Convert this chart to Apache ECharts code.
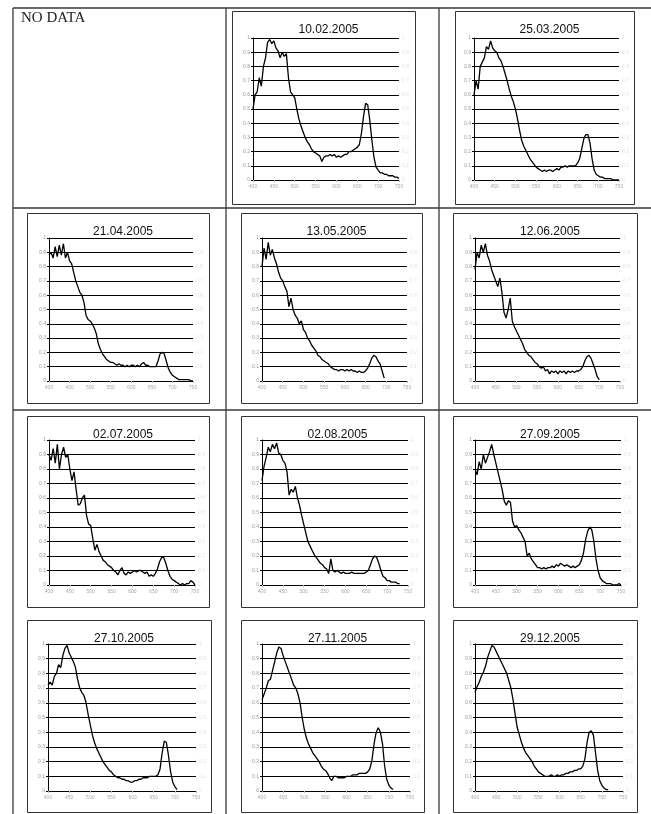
<!DOCTYPE html>
<html><head><meta charset="utf-8">
<script src="https://cdn.jsdelivr.net/npm/echarts@6/dist/echarts.min.js"></script>
<style>html,body{margin:0;padding:0;background:#fff}#c{width:651px;height:814px}</style>
</head><body><div id="c"></div>
<script>
// ---------- DATA ----------
const dates = ['10.02.2005','25.03.2005','21.04.2005','13.05.2005','12.06.2005','02.07.2005','02.08.2005','27.09.2005','27.10.2005','27.11.2005','29.12.2005'];
const wavelengths = [400,405,410,415,420,425,430,435,440,445,450,455,460,465,470,475,480,485,490,495,500,505,510,515,520,525,530,535,540,545,550,555,560,565,570,575,580,585,590,595,600,605,610,615,620,625,630,635,640,645,650,655,660,665,670,675,680,685,690,695,700,705,710,715,720,725,730,735,740,745,750];
const xTicks = [400,450,500,550,600,650,700,750];
const yTicks = [0,0.1,0.2,0.3,0.4,0.5,0.6,0.7,0.8,0.9,1];

const s20050210 = [0.50,0.60,0.62,0.72,0.66,0.80,0.86,0.97,0.99,0.96,0.98,0.93,0.91,0.86,0.90,0.87,0.89,0.72,0.62,0.60,0.58,0.50,0.43,0.38,0.34,0.30,0.27,0.25,0.22,0.20,0.19,0.18,0.17,0.13,0.16,0.17,0.17,0.18,0.17,0.18,0.16,0.17,0.16,0.17,0.18,0.18,0.20,0.20,0.21,0.22,0.23,0.25,0.33,0.45,0.54,0.53,0.42,0.28,0.16,0.09,0.07,0.05,0.05,0.04,0.04,0.03,0.03,0.03,0.02,0.02,0.01];
const s20050325 = [0.60,0.70,0.64,0.80,0.83,0.86,0.94,0.92,0.98,0.93,0.91,0.90,0.86,0.84,0.80,0.75,0.70,0.64,0.59,0.55,0.50,0.43,0.35,0.28,0.24,0.21,0.18,0.15,0.13,0.11,0.09,0.08,0.07,0.06,0.07,0.06,0.07,0.07,0.06,0.07,0.08,0.07,0.09,0.09,0.10,0.09,0.10,0.10,0.10,0.10,0.12,0.15,0.22,0.29,0.32,0.32,0.26,0.15,0.07,0.04,0.03,0.02,0.02,0.01,0.01,0.01,0.01,0.00,0.00,0.00,0.00];
const s20050421 = [0.88,0.90,0.86,0.94,0.87,0.95,0.88,0.96,0.86,0.90,0.84,0.82,0.76,0.70,0.66,0.62,0.60,0.55,0.46,0.43,0.42,0.40,0.37,0.33,0.26,0.22,0.19,0.17,0.15,0.14,0.13,0.13,0.12,0.11,0.12,0.11,0.11,0.10,0.11,0.10,0.11,0.11,0.10,0.11,0.10,0.12,0.13,0.11,0.11,0.10,0.10,0.10,0.10,0.14,0.19,0.20,0.19,0.14,0.09,0.06,0.04,0.03,0.02,0.01,0.01,0.01,0.01,0.01,0.01,0.00,0.00];
const s20050513 = [0.80,0.93,0.85,0.97,0.88,0.92,0.86,0.82,0.76,0.72,0.70,0.66,0.63,0.52,0.58,0.50,0.46,0.44,0.40,0.42,0.36,0.34,0.30,0.28,0.25,0.23,0.21,0.18,0.17,0.15,0.14,0.13,0.12,0.10,0.09,0.08,0.08,0.07,0.08,0.08,0.07,0.08,0.07,0.08,0.07,0.07,0.06,0.07,0.06,0.06,0.07,0.09,0.12,0.16,0.18,0.17,0.14,0.12,0.07,0.02];
const s20050612 = [0.78,0.90,0.86,0.95,0.90,0.96,0.88,0.84,0.78,0.74,0.70,0.66,0.72,0.62,0.48,0.44,0.50,0.58,0.42,0.38,0.35,0.32,0.29,0.26,0.22,0.20,0.18,0.17,0.15,0.13,0.12,0.10,0.09,0.10,0.07,0.08,0.05,0.07,0.06,0.07,0.05,0.07,0.06,0.07,0.05,0.07,0.06,0.07,0.06,0.07,0.07,0.08,0.10,0.14,0.17,0.18,0.16,0.12,0.08,0.03,0.01];
const s20050702 = [0.90,0.86,0.94,0.84,0.97,0.80,0.90,0.95,0.88,0.90,0.80,0.72,0.78,0.66,0.55,0.56,0.60,0.62,0.48,0.42,0.41,0.32,0.24,0.28,0.23,0.20,0.17,0.16,0.14,0.13,0.12,0.10,0.09,0.07,0.10,0.12,0.08,0.07,0.09,0.08,0.09,0.10,0.09,0.10,0.10,0.09,0.08,0.09,0.06,0.07,0.06,0.08,0.11,0.16,0.19,0.19,0.15,0.10,0.06,0.04,0.03,0.02,0.01,0.00,0.01,0.00,0.01,0.01,0.03,0.02,0.00];
const s20050802 = [0.72,0.82,0.88,0.95,0.92,0.97,0.94,0.98,0.91,0.90,0.86,0.84,0.78,0.62,0.66,0.64,0.68,0.60,0.55,0.48,0.42,0.36,0.30,0.27,0.24,0.21,0.19,0.17,0.15,0.14,0.12,0.11,0.08,0.18,0.10,0.09,0.10,0.09,0.08,0.09,0.08,0.08,0.08,0.09,0.08,0.08,0.08,0.08,0.08,0.08,0.09,0.10,0.14,0.18,0.20,0.19,0.15,0.10,0.06,0.05,0.03,0.03,0.02,0.02,0.02,0.01,0.01];
const s20050927 = [0.80,0.76,0.85,0.80,0.90,0.84,0.88,0.92,0.97,0.90,0.84,0.78,0.72,0.66,0.58,0.55,0.58,0.57,0.44,0.40,0.41,0.38,0.36,0.33,0.30,0.20,0.22,0.18,0.16,0.14,0.12,0.12,0.11,0.12,0.11,0.12,0.12,0.13,0.12,0.14,0.13,0.15,0.14,0.13,0.14,0.13,0.12,0.13,0.12,0.13,0.14,0.17,0.22,0.31,0.37,0.40,0.38,0.30,0.18,0.10,0.05,0.03,0.02,0.01,0.01,0.01,0.00,0.00,0.00,0.01,0.00];
const s20051027 = [0.72,0.74,0.72,0.78,0.80,0.86,0.84,0.92,0.97,0.99,0.94,0.91,0.88,0.84,0.76,0.70,0.67,0.65,0.60,0.52,0.45,0.38,0.33,0.29,0.26,0.23,0.20,0.18,0.16,0.14,0.13,0.11,0.10,0.09,0.09,0.08,0.08,0.07,0.07,0.06,0.06,0.07,0.07,0.08,0.08,0.09,0.09,0.09,0.10,0.10,0.10,0.10,0.11,0.15,0.26,0.34,0.33,0.24,0.13,0.06,0.03,0.01];
const s20051127 = [0.62,0.66,0.70,0.75,0.76,0.82,0.88,0.94,0.98,0.97,0.92,0.88,0.84,0.80,0.76,0.72,0.70,0.66,0.60,0.50,0.42,0.36,0.32,0.29,0.26,0.24,0.22,0.20,0.17,0.15,0.14,0.12,0.09,0.07,0.10,0.10,0.09,0.09,0.09,0.09,0.10,0.10,0.10,0.11,0.11,0.11,0.12,0.12,0.12,0.12,0.13,0.15,0.21,0.32,0.40,0.43,0.40,0.32,0.17,0.08,0.04,0.02,0.01];
const s20051229 = [0.67,0.71,0.74,0.78,0.81,0.85,0.91,0.95,0.99,0.98,0.95,0.92,0.89,0.86,0.83,0.80,0.75,0.70,0.62,0.52,0.43,0.38,0.33,0.29,0.26,0.24,0.22,0.20,0.17,0.15,0.13,0.12,0.11,0.10,0.10,0.10,0.11,0.10,0.10,0.11,0.10,0.11,0.11,0.12,0.12,0.13,0.13,0.14,0.14,0.15,0.15,0.17,0.22,0.33,0.40,0.41,0.38,0.26,0.14,0.07,0.04,0.02,0.01,0.01];
const seriesValues = [s20050210,s20050325,s20050421,s20050513,s20050612,s20050702,s20050802,s20050927,s20051027,s20051127,s20051229];

// ---------- LAYOUT (positions / styles only) ----------
// box: [x, y, w, h]; grid: [left, top, width, height]
const layout = [
  {box:[232,11,183,193], grid:[253,38,146,142]},
  {box:[455,11,179,193], grid:[474,38,145,142]},
  {box:[27,213,182,190], grid:[49,238,144,143]},
  {box:[241,213,181,190], grid:[262,238,145,143]},
  {box:[453,213,184,190], grid:[475,238,145,143]},
  {box:[27,416,182,191], grid:[49,440,146,145]},
  {box:[241,416,183,191], grid:[262,440,146,145]},
  {box:[453,416,184,191], grid:[475,440,146,145]},
  {box:[27,620,184,192], grid:[48,644,148,147]},
  {box:[241,620,183,192], grid:[262,644,148,147]},
  {box:[453,620,184,192], grid:[475,644,148,147]}
];

const grids = [], xAxes = [], yAxes = [], series = [], titles = [];
const graphics = [];
const tableLine = (x1,y1,x2,y2) => ({type:'line', shape:{x1,y1,x2,y2}, style:{stroke:'#3a3a3a', lineWidth:1.3}, silent:true, z:0});
graphics.push(tableLine(13,8,651,8));
graphics.push(tableLine(13,208,651,208));
graphics.push(tableLine(13,410,651,410));
graphics.push(tableLine(13,8,13,814));
graphics.push(tableLine(226,8,226,814));
graphics.push(tableLine(439,8,439,814));
graphics.push({type:'text', left:21, top:11, style:{text:'NO DATA', font:'15px "Liberation Serif", "DejaVu Serif", serif', fill:'#222'}, silent:true});

layout.forEach((L, i) => {
  const [bx,by,bw,bh] = L.box;
  const [gl,gt,gw,gh] = L.grid;
  graphics.push({type:'rect', shape:{x:bx+0.5,y:by+0.5,width:bw,height:bh}, style:{fill:null, stroke:'#333', lineWidth:1}, silent:true, z:1});
  grids.push({left:gl, top:gt, width:gw, height:gh, containLabel:false});
  titles.push({text:dates[i], left:bx+bw/2, top:by+8, textAlign:'center',
    textStyle:{fontFamily:'Liberation Sans, Arial, sans-serif', fontSize:12, fontWeight:'normal', color:'#111'}});
  xAxes.push({type:'value', gridIndex:i, min:400, max:750, interval:50,
    axisLine:{show:true, lineStyle:{color:'#000', width:1}},
    axisTick:{show:true, length:2, lineStyle:{color:'#bbb'}},
    axisLabel:{fontSize:5, color:'#aaa', margin:4, fontFamily:'Arial',
      customValues: xTicks},
    splitLine:{show:false}});
  yAxes.push({type:'value', gridIndex:i, min:0, max:1, interval:0.1, position:'left',
    axisLine:{show:true, lineStyle:{color:'#000', width:1}},
    axisTick:{show:true, length:2, lineStyle:{color:'#000'}},
    axisLabel:{fontSize:5, color:'#999', margin:3, fontFamily:'Arial', formatter:v => String(+v.toFixed(1))},
    splitLine:{show:true, lineStyle:{color:'#000', width:1}}});
  yAxes.push({type:'value', gridIndex:i, min:0, max:1, interval:0.1, position:'right',
    axisLine:{show:false}, axisTick:{show:false},
    axisLabel:{fontSize:5, color:'#e2e2e2', margin:3, fontFamily:'Arial', formatter:v => String(+v.toFixed(1))},
    splitLine:{show:false}});
  const vals = seriesValues[i];
  series.push({type:'line', xAxisIndex:i, yAxisIndex:2*i, showSymbol:false, symbol:'none', animation:false,
    lineStyle:{color:'#000', width:1.3}, data: vals.map((v,k) => [wavelengths[k], v]), z:3});
});

const chart = echarts.init(document.getElementById('c'), null, {renderer:'canvas'});
chart.setOption({
  animation:false,
  backgroundColor:'#fff',
  title: titles,
  grid: grids,
  xAxis: xAxes,
  yAxis: yAxes,
  series: series,
  graphic: graphics
});
</script>
</body></html>
